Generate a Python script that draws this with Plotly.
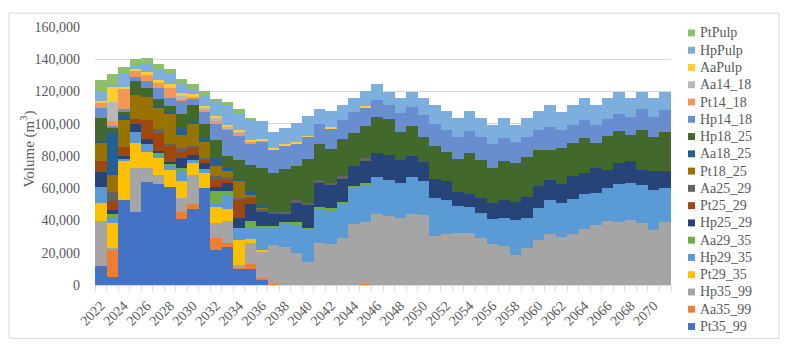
import plotly.graph_objects as go

# Years on the x axis (one stacked bar per year)
years = list(range(2022, 2072))

# Volumes (m3) per assortment, bottom of the stack first
pt35_99 = [12000, 5100, 52500, 45000, 64000, 62700, 60700, 40900, 47000, 60000,
           21900, 23500, 10200, 10200, 3500, 0, 0, 0, 0, 0,
           0, 0, 0, 0, 0, 0, 0, 0, 0, 0,
           0, 0, 0, 0, 0, 0, 0, 0, 0, 0,
           0, 0, 0, 0, 0, 0, 0, 0, 0, 0]
aa35_99 = [0, 16750, 0, 0, 0, 0, 0, 4100, 3500, 0,
           7350, 2450, 600, 3000, 600, 500, 0, 0, 0, 0,
           0, 0, 0, 400, 0, 0, 0, 0, 0, 0,
           0, 0, 0, 0, 0, 0, 0, 0, 0, 0,
           0, 0, 0, 0, 0, 0, 0, 0, 0, 0]
hp35_99 = [27400, 1000, 0, 27600, 8600, 5700, 0, 9200, 18000, 0,
           9000, 13500, 1400, 12650, 16300, 24100, 23500, 19800, 14300, 25950,
           25500, 29000, 37800, 38800, 43900, 42900, 41500, 44300, 43500, 30650,
           31700, 32100, 32100, 29200, 25550, 23900, 18400, 23100, 28000, 31700,
           30000, 31700, 34700, 37400, 39800, 39200, 40250, 38200, 34100, 38800]
pt29_35 = [11650, 15700, 24700, 15300, 9800, 10600, 10800, 10200, 7750, 9500,
           10200, 7550, 15900, 2650, 1400, 0, 0, 0, 0, 0,
           0, 0, 0, 0, 0, 0, 0, 0, 0, 0,
           0, 0, 0, 0, 0, 0, 0, 0, 0, 0,
           0, 0, 0, 0, 0, 0, 0, 0, 0, 0]
hp29_35 = [9800, 3700, 1000, 7150, 4900, 1600, 2450, 6100, 1000, 2450,
           2650, 8600, 7150, 7150, 13900, 11200, 14700, 18000, 20000, 21000,
           20800, 21000, 22100, 22500, 22900, 22500, 21900, 22500, 21250, 23500,
           20800, 17000, 16350, 15700, 15300, 17600, 21850, 18400, 20000, 20800,
           21000, 21450, 21450, 19800, 20400, 23500, 23100, 23700, 25100, 21050]
aa29_35 = [0, 1800, 0, 0, 0, 1000, 1200, 2000, 0, 0,
           7150, 3000, 0, 4100, 800, 800, 800, 1000, 1000, 1400,
           1200, 1400, 1400, 1400, 0, 0, 0, 0, 0, 0,
           0, 0, 0, 0, 0, 0, 0, 0, 0, 0,
           0, 0, 0, 0, 0, 0, 0, 0, 0, 0]
hp25_29 = [9000, 2650, 1500, 4500, 3050, 1600, 1000, 6500, 3300, 3700,
           2450, 4700, 6100, 10200, 8800, 7750, 5100, 12250, 14700, 15500,
           14700, 14900, 12250, 14300, 14900, 15300, 14300, 12900, 11250, 11850,
           11850, 8800, 8200, 9200, 10200, 11000, 11450, 13100, 13300, 12900,
           11650, 14300, 13300, 15300, 11250, 12900, 13700, 9600, 11650, 11050]
pt25_29 = [7350, 5500, 6100, 3700, 11850, 11200, 10200, 3700, 4500, 2000,
           4700, 2000, 11200, 3700, 1000, 300, 400, 0, 0, 0,
           0, 0, 0, 0, 0, 0, 0, 0, 0, 0,
           0, 0, 0, 0, 0, 0, 0, 0, 0, 0,
           0, 0, 0, 0, 0, 0, 0, 0, 0, 0]
aa25_29 = [0, 5500, 0, 0, 0, 2450, 1000, 2000, 1000, 1400,
           2000, 1400, 1400, 1400, 1000, 600, 800, 1400, 1000, 1000,
           1000, 1200, 0, 1200, 0, 0, 0, 0, 0, 0,
           0, 0, 0, 0, 0, 0, 0, 0, 0, 0,
           0, 0, 0, 0, 0, 0, 0, 0, 0, 0]
pt18_25 = [10800, 10400, 16350, 14300, 14300, 12900, 18800, 8200, 14300, 9800,
           6100, 3700, 10800, 1000, 800, 0, 0, 0, 0, 0,
           0, 0, 0, 0, 0, 0, 0, 0, 0, 0,
           0, 0, 0, 0, 0, 0, 0, 0, 0, 0,
           0, 0, 0, 0, 0, 0, 0, 0, 0, 0]
aa18_25 = [1400, 27000, 2450, 0, 0, 1400, 1600, 5100, 1000, 3000,
           5100, 2000, 1000, 2450, 1000, 0, 0, 0, 0, 0,
           0, 0, 0, 0, 0, 0, 0, 0, 0, 0,
           0, 0, 0, 0, 0, 0, 0, 0, 0, 0,
           0, 0, 0, 0, 0, 0, 0, 0, 0, 0]
hp18_25 = [13900, 2650, 2450, 8800, 5500, 4100, 3000, 8200, 10200, 8200,
           11200, 7550, 11650, 15900, 23500, 24500, 26800, 21650, 27200, 22300,
           21450, 22900, 21000, 19800, 22500, 22500, 17400, 19000, 15900, 20400,
           18000, 20400, 25100, 23500, 21450, 24500, 23900, 24500, 22500, 18400,
           22050, 20700, 21700, 15500, 20700, 19650, 15900, 24900, 21050, 23700]
hp14_18 = [6500, 1000, 2000, 2450, 4300, 7150, 5100, 8200, 4100, 7150,
           10200, 15900, 14900, 13300, 16300, 14300, 14300, 13700, 13700, 12900,
           12650, 11650, 12650, 11650, 10800, 8600, 11850, 11650, 13300, 13700,
           13700, 13700, 13700, 14300, 14700, 14300, 13300, 12900, 12250, 14300,
           11250, 11000, 11000, 11000, 11000, 11000, 11250, 12900, 12250, 13700]
pt14_18 = [3000, 2650, 12900, 4100, 3500, 3000, 6100, 1000, 1000, 1600,
           2000, 1400, 2000, 1400, 1000, 0, 0, 0, 0, 0,
           0, 0, 0, 0, 0, 0, 0, 0, 0, 0,
           0, 0, 0, 0, 0, 0, 0, 0, 0, 0,
           0, 0, 0, 0, 0, 0, 0, 0, 0, 0]
aa14_18 = [0, 12250, 0, 0, 1000, 0, 0, 2000, 0, 1400,
           2000, 1000, 1000, 0, 0, 0, 0, 0, 0, 0,
           0, 0, 0, 0, 0, 0, 0, 0, 0, 0,
           0, 0, 0, 0, 0, 0, 0, 0, 0, 0,
           0, 0, 0, 0, 0, 0, 0, 0, 0, 0]
aa_pulp = [1400, 9600, 1000, 1000, 1000, 2000, 3000, 1500, 1500, 1000,
           1000, 1000, 1000, 800, 800, 1000, 1000, 1000, 600, 0,
           400, 0, 0, 1000, 0, 0, 0, 0, 0, 0,
           0, 0, 0, 0, 0, 0, 0, 0, 0, 0,
           0, 0, 0, 0, 0, 0, 0, 0, 0, 0]
hp_pulp = [6100, 1000, 8500, 2450, 5100, 6100, 5700, 6100, 3700, 6100,
           8600, 12250, 10200, 12250, 11200, 9800, 9800, 11850, 12450, 8800,
           10200, 9600, 8600, 9200, 9600, 8200, 9000, 9600, 10600, 11650,
           11650, 11650, 12250, 11650, 12250, 12250, 10600, 11650, 11650, 13700,
           11650, 12650, 13700, 12650, 12650, 13700, 11650, 10600, 11650, 11650]
pt_pulp = [6700, 6750, 4000, 3700, 4100, 3700, 3500, 3000, 3000, 3000,
           2000, 2000, 2450, 1400, 0, 0, 0, 0, 0, 0,
           0, 0, 0, 0, 0, 0, 0, 0, 0, 0,
           0, 0, 0, 0, 0, 0, 0, 0, 0, 0,
           0, 0, 0, 0, 0, 0, 0, 0, 0, 0]

series = [
    ("Pt35_99", pt35_99, "#4472C4"),
    ("Aa35_99", aa35_99, "#ED7D31"),
    ("Hp35_99", hp35_99, "#A5A5A5"),
    ("Pt29_35", pt29_35, "#FFC000"),
    ("Hp29_35", hp29_35, "#5B9BD5"),
    ("Aa29_35", aa29_35, "#70AD47"),
    ("Hp25_29", hp25_29, "#264478"),
    ("Pt25_29", pt25_29, "#9E480E"),
    ("Aa25_29", aa25_29, "#636363"),
    ("Pt18_25", pt18_25, "#997300"),
    ("Aa18_25", aa18_25, "#255E91"),
    ("Hp18_25", hp18_25, "#43682B"),
    ("Hp14_18", hp14_18, "#698ED0"),
    ("Pt14_18", pt14_18, "#F1975A"),
    ("Aa14_18", aa14_18, "#B7B7B7"),
    ("AaPulp", aa_pulp, "#FFCD33"),
    ("HpPulp", hp_pulp, "#7CAFDD"),
    ("PtPulp", pt_pulp, "#8CC168"),
]

fig = go.Figure()
for name, vals, color in series:
    fig.add_trace(go.Bar(x=years, y=vals, name=name,
                         marker=dict(color=color, line=dict(width=0))))

txt = "#595959"
grid = "#D9D9D9"
font = "Liberation Serif, Times New Roman, serif"

# the page body has an 8px margin, so work in screen pixels and shift by 8
OFF = 8
W, H = 795 - OFF, 350 - OFF
# plot area in screen pixels: x 95..671, y 24..285
L, R, T, B = 95 - OFF, 671 - OFF, 24 - OFF, 285 - OFF
def px(x):
    return (x - OFF - L) / (R - L)
def py(y):
    return (B - (y - OFF)) / (B - T)

fig.update_layout(
    width=W, height=H,
    margin=dict(l=L, r=W - R, t=T, b=H - B),
    barmode="stack", bargap=0,
    paper_bgcolor="white", plot_bgcolor="white",
    font=dict(family=font, size=14, color=txt),
    showlegend=False,
)

fig.update_xaxes(
    range=[2021.5, 2071.5], tickmode="linear", tick0=2022, dtick=2,
    tickangle=-45, ticks="", showgrid=False, zeroline=False,
    showline=True, linecolor=grid, linewidth=1, ticklabelstandoff=6,
    minor=dict(ticks="outside", tick0=2021.5, dtick=1, ticklen=5, tickcolor=grid, showgrid=False),
    tickfont=dict(size=14, color=txt),
)
fig.update_yaxes(
    range=[0, 160000], dtick=20000, tickformat=",d",
    showgrid=True, gridcolor=grid, zeroline=False, showline=False,
    ticklabelstandoff=14, tickfont=dict(size=14, color=txt),
)

# axis title placed where the original has it
fig.add_annotation(xref="paper", yref="paper", x=px(28), y=py(148),
                   text="Volume (m<sup>3</sup>)", textangle=-90, showarrow=False,
                   xanchor="center", yanchor="middle",
                   font=dict(family=font, size=15, color=txt))

# legend drawn by hand so the 18 entries fit like the original (top entry = last series)
for k, (name, vals, color) in enumerate(reversed(series)):
    yc = 30 + 17.47 * k
    fig.add_shape(type="rect", xref="paper", yref="paper",
                  x0=px(688), x1=px(695), y0=py(yc + 3.5), y1=py(yc - 3.5),
                  line=dict(width=0), fillcolor=color)
    fig.add_annotation(xref="paper", yref="paper", x=px(698), y=py(yc),
                       xanchor="left", yanchor="middle", text=name, showarrow=False,
                       font=dict(family=font, size=14, color=txt))

# outer chart border like the spreadsheet chart area
fig.add_shape(type="rect", xref="paper", yref="paper",
              x0=px(9), x1=px(779), y0=py(339), y1=py(10),
              line=dict(color=grid, width=1), fillcolor="rgba(0,0,0,0)", layer="below")

fig.write_html("out.html")
